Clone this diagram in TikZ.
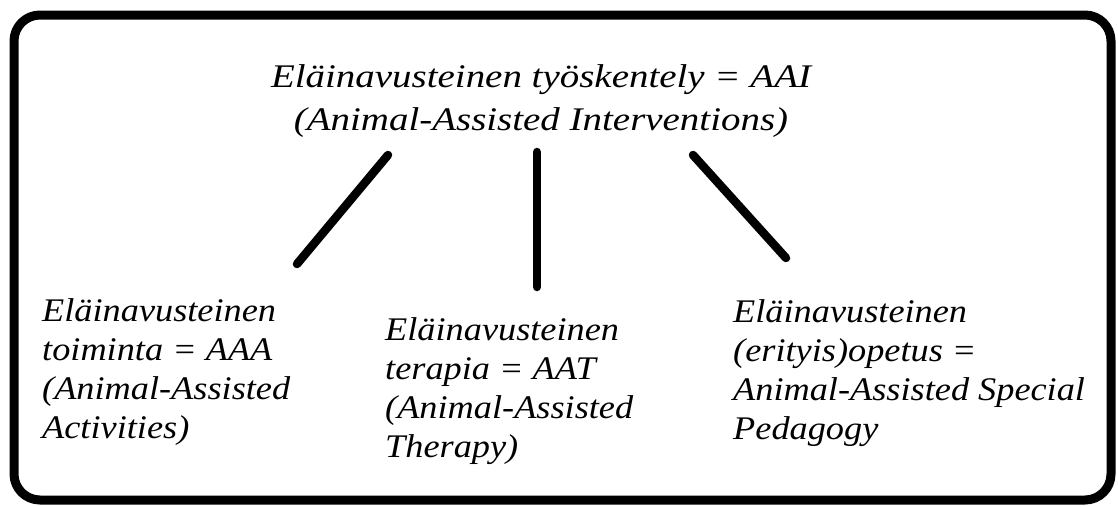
\documentclass[tikz,border=0pt]{standalone}
\usepackage{fontspec}
\setmainfont{Liberation Serif}
\newfontfamily\bodyfont{Liberation Serif}[FakeStretch=1.1]
\newfontfamily\titlefont{Liberation Serif}[FakeStretch=1.18]
\begin{document}
\begin{tikzpicture}[x=1pt,y=-1pt,
  lbl/.style={anchor=base west,align=left,inner sep=0pt,font=\bodyfont\itshape\fontsize{33}{39}\selectfont},
  ttl/.style={anchor=base,align=center,inner sep=0pt,font=\titlefont\itshape\fontsize{33}{43}\selectfont},
  conn/.style={line width=8.5pt,line cap=round}]
\useasboundingbox (0,0) rectangle (1118,506);
\draw[line width=9pt,rounded corners=26pt] (14,15) rectangle (1111,500);
\node[ttl] (top) at (541,130) {Eläinavusteinen työskentely = AAI\\(Animal-Assisted Interventions)};
\node[lbl] (aaa) at (42,438) {Eläinavusteinen\\toiminta = AAA\\(Animal-Assisted\\Activities)};
\node[lbl] (aat) at (385,457) {Eläinavusteinen\\terapia = AAT\\(Animal-Assisted\\Therapy)};
\node[lbl] (aasp) at (733,439) {Eläinavusteinen\\(erityis)opetus =\\Animal-Assisted Special\\Pedagogy};
\coordinate (l1) at (388,155);
\coordinate (l2) at (297,264);
\coordinate (m1) at (537,152);
\coordinate (m2) at (537,287);
\coordinate (r1) at (693,155);
\coordinate (r2) at (786,258);
\draw[conn] (l1) -- (l2);
\draw[conn] (m1) -- (m2);
\draw[conn] (r1) -- (r2);
\end{tikzpicture}
\end{document}
